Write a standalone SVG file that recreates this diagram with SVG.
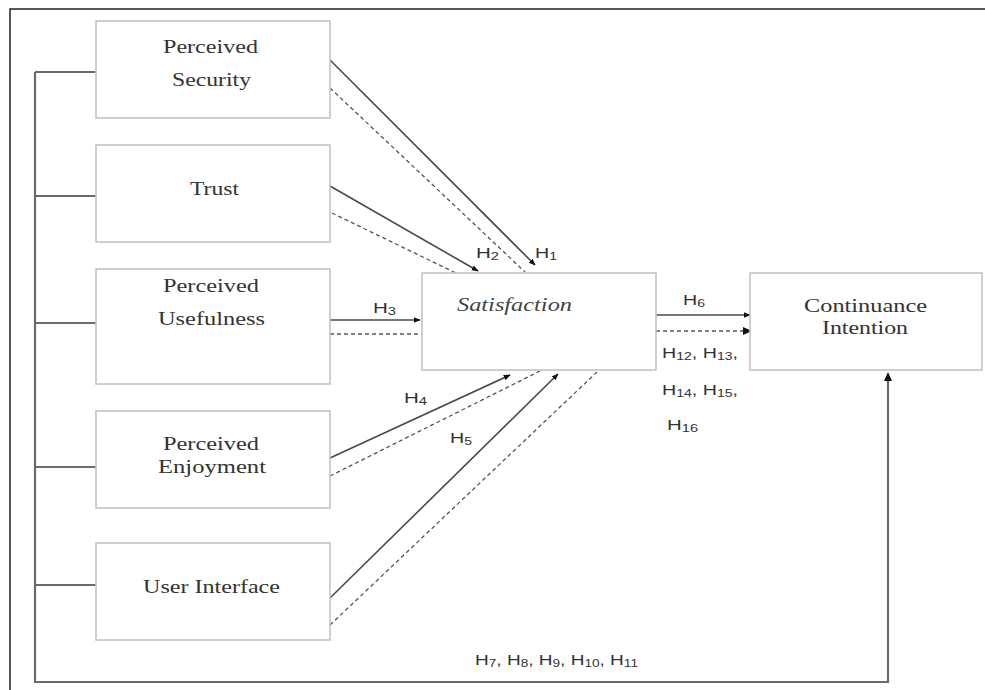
<svg xmlns="http://www.w3.org/2000/svg" width="985" height="690" viewBox="0 0 985 690">
<style>
.box{fill:#fff;stroke:#c4c4c4;stroke-width:1.6}
.lbl{font-family:"Liberation Serif",serif;font-size:19px;fill:#333;text-anchor:start}
.h{font-family:"Liberation Sans",sans-serif;font-size:14px;fill:#333}
.s{font-size:10px}
.sol{stroke:#4a4a4a;stroke-width:1.6;fill:none}
.das{stroke:#555;stroke-width:1.3;stroke-dasharray:4 3;fill:none}
.bus{stroke:#6a6a6a;stroke-width:2.2;fill:none}
</style>
<defs>
<marker id="ah" viewBox="0 0 10 10" refX="9" refY="5" markerWidth="7" markerHeight="7" orient="auto" markerUnits="userSpaceOnUse">
<path d="M0,1 L10,5 L0,9 z" fill="#111"/>
</marker>
</defs>
<rect width="985" height="690" fill="#fff"/>
<path d="M10,690 V9 H985" stroke="#222" stroke-width="1.5" fill="none"/>

<g id="connectors">
<path class="bus" d="M35,72 V682 H888 V374"/>
<path class="bus" d="M35,72 H96 M35,196 H96 M35,323 H96 M35,467 H96 M35,585 H96"/>
<path d="M888,372 l-4,9 h8 z" fill="#111"/>
<line class="sol" x1="330" y1="60" x2="535" y2="265" marker-end="url(#ah)"/>
<line class="das" x1="330" y1="88" x2="525" y2="272"/>
<line class="sol" x1="330" y1="186" x2="478" y2="271" marker-end="url(#ah)"/>
<line class="das" x1="332" y1="213" x2="460" y2="275"/>
<line class="sol" x1="330" y1="320" x2="420" y2="320" marker-end="url(#ah)"/>
<line class="das" x1="330" y1="334" x2="425" y2="334"/>
<line class="sol" x1="330" y1="458" x2="510" y2="375" marker-end="url(#ah)"/>
<line class="das" x1="330" y1="476" x2="540" y2="371"/>
<line class="sol" x1="330" y1="598" x2="558" y2="374" marker-end="url(#ah)"/>
<line class="das" x1="330" y1="625" x2="597" y2="372"/>
<line class="sol" x1="656" y1="315" x2="750" y2="315" marker-end="url(#ah)"/>
<line class="das" x1="656" y1="331" x2="744" y2="331"/>
<path d="M752,331 l-9,-4 v8 z" fill="#111"/>
</g>

<g id="labels">
<text class="h" x="535" y="258" textLength="22" lengthAdjust="spacingAndGlyphs">H<tspan class="s" dy="2">1</tspan></text>
<text class="h" x="476" y="258" textLength="23" lengthAdjust="spacingAndGlyphs">H<tspan class="s" dy="2">2</tspan></text>
<text class="h" x="373" y="313" textLength="23" lengthAdjust="spacingAndGlyphs">H<tspan class="s" dy="2">3</tspan></text>
<text class="h" x="404" y="403" textLength="23" lengthAdjust="spacingAndGlyphs">H<tspan class="s" dy="2">4</tspan></text>
<text class="h" x="450" y="443" textLength="22" lengthAdjust="spacingAndGlyphs">H<tspan class="s" dy="2">5</tspan></text>
<text class="h" x="683" y="305" textLength="22" lengthAdjust="spacingAndGlyphs">H<tspan class="s" dy="2">6</tspan></text>
<text class="h" x="662" y="358" textLength="76" lengthAdjust="spacingAndGlyphs">H<tspan class="s" dy="2">12</tspan><tspan dy="-2">, H</tspan><tspan class="s" dy="2">13</tspan><tspan dy="-2">,</tspan></text>
<text class="h" x="662" y="395" textLength="76" lengthAdjust="spacingAndGlyphs">H<tspan class="s" dy="2">14</tspan><tspan dy="-2">, H</tspan><tspan class="s" dy="2">15</tspan><tspan dy="-2">,</tspan></text>
<text class="h" x="667" y="430" textLength="31" lengthAdjust="spacingAndGlyphs">H<tspan class="s" dy="2">16</tspan></text>
<text class="h" x="475" y="665" textLength="163" lengthAdjust="spacingAndGlyphs">H<tspan class="s" dy="2">7</tspan><tspan dy="-2">, H</tspan><tspan class="s" dy="2">8</tspan><tspan dy="-2">, H</tspan><tspan class="s" dy="2">9</tspan><tspan dy="-2">, H</tspan><tspan class="s" dy="2">10</tspan><tspan dy="-2">, H</tspan><tspan class="s" dy="2">11</tspan></text>
</g>

<g id="perceived-security">
<rect class="box" x="96" y="21" width="234" height="97"/>
<text class="lbl" x="163" y="53" textLength="95" lengthAdjust="spacingAndGlyphs">Perceived</text>
<text class="lbl" x="172" y="86" textLength="79" lengthAdjust="spacingAndGlyphs">Security</text>
</g>
<g id="trust">
<rect class="box" x="96" y="145" width="234" height="97"/>
<text class="lbl" x="190" y="195" textLength="49" lengthAdjust="spacingAndGlyphs">Trust</text>
</g>
<g id="perceived-usefulness">
<rect class="box" x="96" y="269" width="234" height="115"/>
<text class="lbl" x="163" y="292" textLength="96" lengthAdjust="spacingAndGlyphs">Perceived</text>
<text class="lbl" x="158" y="325" textLength="107" lengthAdjust="spacingAndGlyphs">Usefulness</text>
</g>
<g id="perceived-enjoyment">
<rect class="box" x="96" y="411" width="234" height="97"/>
<text class="lbl" x="163" y="450" textLength="96" lengthAdjust="spacingAndGlyphs">Perceived</text>
<text class="lbl" x="158" y="473" textLength="108" lengthAdjust="spacingAndGlyphs">Enjoyment</text>
</g>
<g id="user-interface">
<rect class="box" x="96" y="543" width="234" height="97"/>
<text class="lbl" x="143" y="593" textLength="137" lengthAdjust="spacingAndGlyphs">User Interface</text>
</g>
<g id="satisfaction">
<rect class="box" x="422" y="273" width="234" height="97"/>
<text x="457" y="311" font-family="Liberation Serif,serif" font-style="italic" font-size="19" fill="#444" textLength="115" lengthAdjust="spacingAndGlyphs">Satisfaction</text>
</g>
<g id="continuance-intention">
<rect class="box" x="750" y="273" width="232" height="97"/>
<text class="lbl" x="804" y="312" textLength="123" lengthAdjust="spacingAndGlyphs">Continuance</text>
<text class="lbl" x="822" y="334" textLength="86" lengthAdjust="spacingAndGlyphs">Intention</text>
</g>
</svg>
